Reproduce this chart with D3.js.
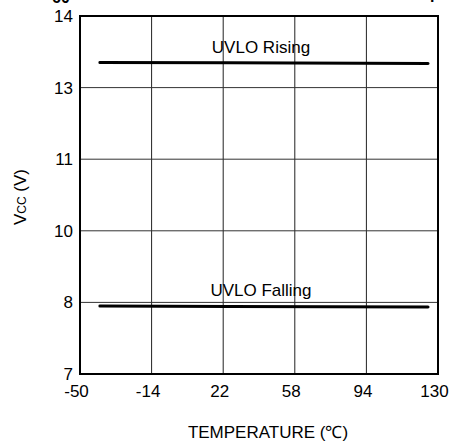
<!DOCTYPE html>
<html>
<head>
<meta charset="utf-8">
<script src="https://cdn.jsdelivr.net/npm/d3@7"></script>
<style>
  body { margin: 0; background: #fff; }
  svg { display: block; font-family: "Liberation Sans", Arial, sans-serif; }
</style>
</head>
<body>
<script>
// data
const xTicks = [-50, -14, 22, 58, 94, 130]
const yTicks = [7, 8.4, 9.8, 11.2, 12.6, 14]
const risingTemp = [-40, 25, 125]
const risingVcc = [13.09, 13.085, 13.07]
const fallingTemp = [-40, 25, 125]
const fallingVcc = [8.33, 8.32, 8.31]
const seriesNames = ['UVLO Rising', 'UVLO Falling']

const width = 451
const height = 441
const margin = { top: 16, right: 13, bottom: 67, left: 80 }
const fontSize = '17px'

const svg = d3.select('body')
  .append('svg')
  .attr('width', width)
  .attr('height', height)

const x = d3.scaleLinear()
  .domain([-50, 130])
  .range([margin.left, width - margin.right])

const y = d3.scaleLinear()
  .domain([7, 14])
  .range([height - margin.bottom, margin.top])

// grid
svg.append('g')
  .selectAll('line')
  .data(xTicks.slice(1, -1))
  .join('line')
  .attr('x1', d => x(d)).attr('x2', d => x(d))
  .attr('y1', y(7)).attr('y2', y(14))
  .attr('stroke', '#222')
  .attr('stroke-width', 1)

svg.append('g')
  .selectAll('line')
  .data(yTicks.slice(1, -1))
  .join('line')
  .attr('x1', x(-50)).attr('x2', x(130))
  .attr('y1', d => y(d)).attr('y2', d => y(d))
  .attr('stroke', '#333')
  .attr('stroke-width', 1)

// frame
svg.append('rect')
  .attr('x', x(-50))
  .attr('y', y(14))
  .attr('width', x(130) - x(-50))
  .attr('height', y(7) - y(14))
  .attr('fill', 'none')
  .attr('stroke', '#000')
  .attr('stroke-width', 2)

// axes labels
const xAxis = d3.axisBottom(x).tickValues(xTicks).tickSize(0).tickPadding(11)
  .tickFormat(d => String(d))
svg.append('g')
  .attr('transform', `translate(-4,${y(7)})`)
  .call(xAxis)
  .call(g => g.select('.domain').remove())
  .selectAll('text')
  .attr('font-size', fontSize)
  .attr('font-family', '"Liberation Sans", Arial, sans-serif')
  .attr('fill', '#000')

const yAxis = d3.axisLeft(y).tickValues(yTicks).tickSize(0).tickPadding(7)
  .tickFormat(d => d3.format('.0f')(d))
svg.append('g')
  .attr('transform', `translate(${x(-50)},0)`)
  .call(yAxis)
  .call(g => g.select('.domain').remove())
  .selectAll('text')
  .attr('font-size', fontSize)
  .attr('font-family', '"Liberation Sans", Arial, sans-serif')
  .attr('fill', '#000')

// lines
const line = d3.line().x(d => x(d[0])).y(d => y(d[1]))
const series = [
  d3.zip(risingTemp, risingVcc),
  d3.zip(fallingTemp, fallingVcc)
]

svg.append('g')
  .selectAll('path')
  .data(series)
  .join('path')
  .attr('d', line)
  .attr('fill', 'none')
  .attr('stroke', '#000')
  .attr('stroke-width', 3)
  .attr('stroke-linecap', 'round')

// series labels
svg.append('g')
  .selectAll('text')
  .data(seriesNames)
  .join('text')
  .attr('x', x(41))
  .attr('y', (d, i) => y(i === 0 ? risingVcc[0] : fallingVcc[0]) - 10)
  .attr('text-anchor', 'middle')
  .attr('font-size', fontSize)
  .text(d => d)

// axis titles
svg.append('text')
  .attr('x', 268)
  .attr('y', 438)
  .attr('text-anchor', 'middle')
  .attr('font-size', fontSize)
  .text('TEMPERATURE (\u2103)')

const yTitle = svg.append('text')
  .attr('transform', `translate(26,${197}) rotate(-90)`)
  .attr('text-anchor', 'middle')
  .attr('font-size', fontSize)
yTitle.append('tspan').text('V')
yTitle.append('tspan').attr('font-size', '12px').text('CC')
yTitle.append('tspan').text(' (V)')

// cut-off bits of text above the chart
svg.append('text')
  .attr('x', 52)
  .attr('y', 3)
  .attr('font-size', '16px')
  .attr('font-weight', 'bold')
  .text('60')
svg.append('text')
  .attr('x', 430)
  .attr('y', -1)
  .attr('font-size', '16px')
  .attr('font-weight', 'bold')
  .text('p')
</script>
</body>
</html>
